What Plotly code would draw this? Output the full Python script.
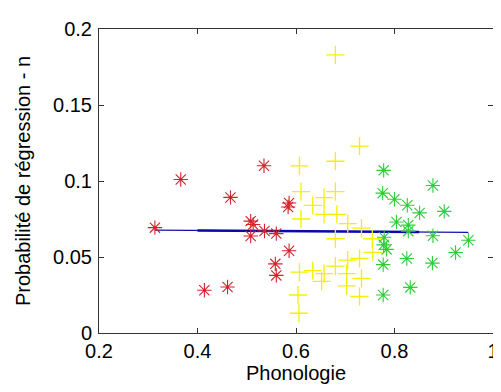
import plotly.graph_objects as go

# Red group (asterisk)
red_x = [0.3135, 0.366, 0.414, 0.461, 0.467, 0.508, 0.513, 0.508, 0.536, 0.535,
         0.560, 0.558, 0.560, 0.584, 0.586, 0.586]
red_y = [0.0693, 0.101, 0.0281, 0.0303, 0.0892, 0.0736, 0.0714, 0.0638, 0.0671, 0.110,
         0.0654, 0.0455, 0.0379, 0.0829, 0.0855, 0.0541]

# Yellow group (plus)
yel_x = [0.680, 0.729, 0.607, 0.680, 0.610, 0.680, 0.657, 0.634, 0.657, 0.683,
         0.610, 0.705, 0.733, 0.680, 0.755, 0.756, 0.729, 0.705, 0.680, 0.634,
         0.607, 0.657, 0.703, 0.733, 0.652, 0.703, 0.604, 0.729, 0.606]
yel_y = [0.183, 0.123, 0.110, 0.113, 0.093, 0.093, 0.089, 0.084, 0.078, 0.078,
         0.075, 0.072, 0.069, 0.062, 0.062, 0.053, 0.049, 0.048, 0.044, 0.041,
         0.040, 0.039, 0.039, 0.036, 0.034, 0.031, 0.025, 0.024, 0.013]

# Green group (asterisk)
grn_x = [0.778, 0.878, 0.776, 0.800, 0.826, 0.851, 0.901, 0.804, 0.828, 0.828,
         0.878, 0.779, 0.778, 0.784, 0.950, 0.924, 0.825, 0.877, 0.777, 0.832, 0.777]
grn_y = [0.107, 0.097, 0.092, 0.088, 0.084, 0.079, 0.080, 0.073, 0.071, 0.067,
         0.064, 0.063, 0.058, 0.055, 0.061, 0.053, 0.049, 0.046, 0.045, 0.030, 0.025]

# Regression lines
fit_x = [0.3135, 0.950]
fit_y = [0.0677, 0.0662]
fit2_x = [0.400, 0.850]
fit2_y = [0.0675, 0.0664]

x_ticks = [0.2, 0.4, 0.6, 0.8, 1.0]
x_labels = ["0.2", "0.4", "0.6", "0.8", "1"]
y_ticks = [0, 0.05, 0.1, 0.15, 0.2]
y_labels = ["0", "0.05", "0.1", "0.15", "0.2"]

RED = "#d2232a"
YEL = "#f6f000"
GRN = "#2ecc3a"

fig = go.Figure()
fig.add_trace(go.Scatter(x=fit_x, y=fit_y, mode="lines",
                         line=dict(color="#1010b0", width=1.2)))
fig.add_trace(go.Scatter(x=fit2_x, y=fit2_y, mode="lines",
                         line=dict(color="#0a0aa8", width=2.5)))
fig.add_trace(go.Scatter(x=red_x, y=red_y, mode="markers",
                         marker=dict(symbol="asterisk-open", size=12, color=RED,
                                     line=dict(color=RED, width=1.1))))
fig.add_trace(go.Scatter(x=yel_x, y=yel_y, mode="markers",
                         marker=dict(symbol="cross-thin-open", size=13, color=YEL,
                                     line=dict(color=YEL, width=1.3))))
fig.add_trace(go.Scatter(x=grn_x, y=grn_y, mode="markers",
                         marker=dict(symbol="asterisk-open", size=12, color=GRN,
                                     line=dict(color=GRN, width=1.1))))

font = dict(family="Liberation Sans, Arial, sans-serif", size=20, color="black")
fig.update_layout(
    width=501, height=392,
    margin=dict(l=91, r=10, t=17, b=67),
    paper_bgcolor="white", plot_bgcolor="white",
    showlegend=False, font=font,
    xaxis=dict(range=[0.2, 1.0], tickvals=x_ticks, ticktext=x_labels,
               showgrid=False, zeroline=False, showline=True, mirror="ticks",
               linecolor="#333333", linewidth=1, ticks="inside", ticklen=5,
               tickcolor="#333333", ticklabelstandoff=0,
               title=dict(text="Phonologie", font=font, standoff=2)),
    yaxis=dict(range=[0, 0.2], tickvals=y_ticks, ticktext=y_labels,
               showgrid=False, zeroline=False, showline=True, mirror="ticks",
               linecolor="#333333", linewidth=1, ticks="inside", ticklen=5,
               tickcolor="#333333", ticklabelstandoff=2,
               title=dict(text="Probabilité de régression - n", font=font, standoff=17)),
)
fig.write_html("out.html")
